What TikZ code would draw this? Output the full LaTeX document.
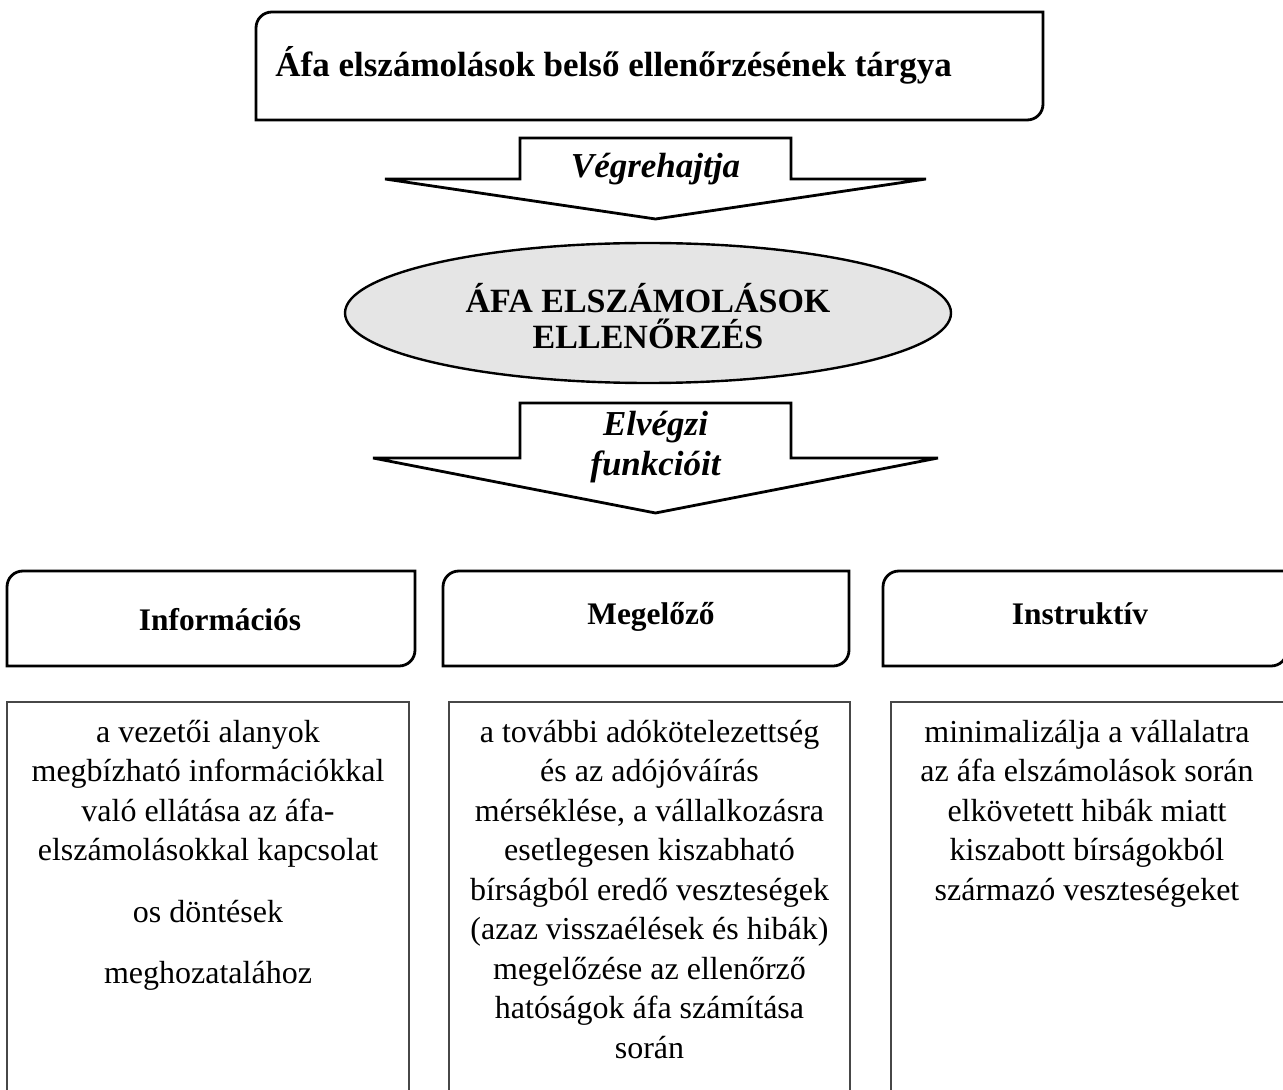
\documentclass[tikz,border=0pt]{standalone}
\usepackage{fontspec}
\setmainfont{Liberation Serif}
\usetikzlibrary{shapes.geometric}
\newcommand\myrbox[4]{%
  \draw[heavy] (#1,#4) -- (#1,{#2+16}) .. controls (#1,{#2+7}) and ({#1+7},#2) .. ({#1+16},#2) -- (#3,#2) -- (#3,{#4-16}) .. controls (#3,{#4-7}) and ({#3-7},#4) .. ({#3-16},#4) -- cycle;}
\begin{document}
\begin{tikzpicture}[x=0.5pt,y=-0.5pt,
  heavy/.style={draw=black, line width=1.4pt, line join=miter},
  lightbox/.style={draw=black!72, line width=0.9pt},
  titletext/.style={font=\fontsize{17.5}{21}\selectfont\bfseries, inner sep=0pt, anchor=base west},
  arrowtext/.style={font=\fontsize{17.5}{20}\selectfont\bfseries\itshape, inner sep=0pt, anchor=north, align=center},
  elltext/.style={font=\fontsize{17}{18}\selectfont\bfseries, inner sep=0pt, anchor=north, align=center},
  labeltext/.style={font=\fontsize{15.7}{19}\selectfont\bfseries, inner sep=0pt, anchor=base},
  bodytext/.style={font=\fontsize{16}{19.75}\selectfont, inner sep=0pt, anchor=north, align=center}]
\useasboundingbox (0,0) rectangle (1283,1090);
\fill[white] (0,0) rectangle (1283,1090);

% top box
\myrbox{256}{12}{1043}{120}
\node[titletext] (title) at (275,77) {Áfa elszámolások belső ellenőrzésének tárgya};

% arrow 1
\draw[heavy] (520,138) -- (791,138) -- (791,179) -- (926,179) -- (655.5,219) -- (385,179) -- (520,179) -- cycle;
\node[arrowtext] (exec) at (655.5,149) {\rule{0pt}{14pt}Végrehajtja};

% ellipse
\node[ellipse, draw=black, line width=1.2pt, fill=black!10, minimum width=303pt, minimum height=70pt, inner sep=0pt] (core) at (648,313) {};
\node[elltext] (coretext) at (648,283) {\rule{0pt}{14pt}ÁFA ELSZÁMOLÁSOK\\ELLENŐRZÉS};

% arrow 2
\draw[heavy] (520,403) -- (791,403) -- (791,458) -- (938,458) -- (655.5,513) -- (373,458) -- (520,458) -- cycle;
\node[arrowtext] (perform) at (655.5,407) {\rule{0pt}{14pt}Elvégzi\\funkcióit};

% function boxes
\myrbox{7}{571}{415}{666}
\myrbox{443}{571}{849}{666}
\myrbox{883}{571}{1287}{666}
\node[labeltext] (info) at (220,630) {Információs};
\node[labeltext] (prev) at (651,624) {Megelőző};
\node[labeltext] (instr) at (1080,624) {Instruktív};

% description boxes
\draw[lightbox] (7,1100) -- (7,702) -- (409,702) -- (409,1100);
\draw[lightbox] (449,1100) -- (449,702) -- (850,702) -- (850,1100);
\draw[lightbox] (891,1100) -- (891,702) -- (1295,702);

\node[bodytext] (infodesc) at (208,714) {\rule{0pt}{14pt}a vezetői alanyok\\megbízható információkkal\\való ellátása az áfa-\\elszámolásokkal kapcsolat\\[11pt]os döntések\\[11pt]meghozatalához};
\node[bodytext] (prevdesc) at (649.5,714) {\rule{0pt}{14pt}a további adókötelezettség\\és az adójóváírás\\mérséklése, a vállalkozásra\\esetlegesen kiszabható\\bírságból eredő veszteségek\\(azaz visszaélések és hibák)\\megelőzése az ellenőrző\\hatóságok áfa számítása\\során};
\node[bodytext] (instrdesc) at (1087,714) {\rule{0pt}{14pt}minimalizálja a vállalatra\\az áfa elszámolások során\\elkövetett hibák miatt\\kiszabott bírságokból\\származó veszteségeket};
\end{tikzpicture}
\end{document}
